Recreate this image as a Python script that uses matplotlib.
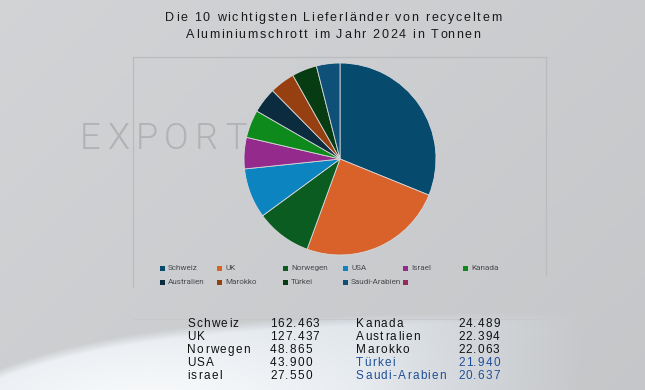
import matplotlib
matplotlib.use("Agg")
import matplotlib.pyplot as plt
import numpy as np
from matplotlib.patches import Rectangle
from matplotlib.font_manager import FontProperties

countries = ["Schweiz", "UK", "Norwegen", "USA", "Israel", "Kanada",
             "Australien", "Marokko", "Türkei", "Saudi-Arabien"]
tonnes = [162463, 127437, 48865, 43900, 27550, 24489, 22394, 22063, 21940, 20637]
table_labels = ["Schweiz", "UK", "Norwegen", "USA", "israel",
                "Kanada", "Australien", "Marokko", "Türkei", "Saudi-Arabien"]
table_values = ["162.463", "127.437", "48.865", "43.900", "27.550",
                "24.489", "22.394", "22.063", "21.940", "20.637"]
colors = ["#064a6e", "#d9612a", "#0b5c20", "#0b84bf", "#942a8c", "#0e8a1d",
          "#0b2b3f", "#963f10", "#073c12", "#0f5079"]
extra_legend_color = "#942a5e"
title_lines = ["Die 10 wichtigsten Lieferländer von recyceltem",
               "Aluminiumschrott im Jahr 2024 in Tonnen"]

W, H, DPI = 645, 390, 100
fig = plt.figure(figsize=(W / DPI, H / DPI), dpi=DPI)

# background: grey wall with a bright curved glass reflection at the bottom left
yy, xx = np.mgrid[0:H, 0:W].astype(float)
base = 210 - 8 * (xx / W) - 5 * (yy / H)
img = np.stack([base, base + 1.5, base + 4], axis=-1)
curve = 310 + 58 * np.exp(-xx / 150)
mask = np.clip((yy - curve) / 10, 0, 1) * np.clip((580 - xx) / 220, 0, 1)
glow = np.exp(-(((xx - 150) / 240) ** 2 + ((yy - 410) / 90) ** 2))
bright = np.stack([220 + 27 * glow, 226 + 23 * glow, 232 + 19 * glow], axis=-1)
img = img * (1 - mask[..., None]) + bright * mask[..., None]
bg = fig.add_axes([0, 0, 1, 1])
bg.imshow(np.clip(img, 0, 255).astype(np.uint8), extent=(0, W, H, 0), aspect="auto")
bg.set_xlim(0, W)
bg.set_ylim(H, 0)
bg.axis("off")

renderer = fig.canvas.get_renderer()


def text_width(s, fp):
    w1, _, _ = renderer.get_text_width_height_descent(s + "|", fp, ismath=False)
    w0, _, _ = renderer.get_text_width_height_descent("|", fp, ismath=False)
    return w1 - w0


def tracked(x, y, s, size, track, ha="left", family="Liberation Sans", weight="normal", **kw):
    fp = FontProperties(family=family, size=size, weight=weight)
    total = text_width(s, fp) + track * (len(s) - 1)
    x0 = x - total / 2 if ha == "center" else x
    for i, c in enumerate(s):
        if c == " ":
            continue
        off = text_width(s[:i], fp) + track * i
        bg.text(x0 + off, y, c, fontproperties=fp, va="center", ha="left", **kw)


# frame lines
frame = dict(color="#b9bbbe", lw=0.9)
bg.plot([133, 546], [57, 57], **frame)
bg.plot([133, 133], [57, 287], **frame)
bg.plot([546, 546], [57, 275], **frame)
bg.plot([133, 546], [319, 319], color="#c6c8cb", lw=0.7)

# watermark
tracked(80, 139, "EXPORT", 26, 6.5, family="Roboto", weight=300, color="#b1b2b5")

# title
tracked(333, 18, title_lines[0], 9, 1.7, ha="center", color="#1a1a1a")
tracked(333, 35, title_lines[1], 9, 1.7, ha="center", color="#1a1a1a")

# pie
cx, cy, r = 340, 159, 96
pax = fig.add_axes([(cx - r) / W, 1 - (cy + r) / H, 2 * r / W, 2 * r / H])
pax.pie(tonnes, colors=colors, startangle=90, counterclock=False,
        wedgeprops=dict(edgecolor="#d6d8da", linewidth=0.6))
pax.set_xlim(-1, 1)
pax.set_ylim(-1, 1)
pax.axis("off")

# legend
col_x = [160, 217, 283, 343, 403, 463]
row_y = [268, 282]
entries = list(zip(countries, colors)) + [("", extra_legend_color)]
for i, (name, col) in enumerate(entries):
    x = col_x[i % 6]
    y = row_y[i // 6]
    bg.add_patch(Rectangle((x, y - 2.5), 5, 5, color=col, lw=0))
    if name:
        bg.text(x + 8, y, name, fontsize=5.9, family="Roboto", color="#4a4c50",
                va="center", ha="left")

# value table
rows_y = [324, 337, 350, 363, 376]
for i in range(10):
    blue = table_labels[i] in ("Türkei", "Saudi-Arabien")
    col = "#1f4f97" if blue else "#111111"
    lx, vx = (187, 270) if i < 5 else (356, 458)
    y = rows_y[i % 5]
    tracked(lx, y, table_labels[i], 8.5, 1.3, color=col)
    tracked(vx, y, table_values[i], 8.5, 1.1, color=col)

fig.savefig("out.png", dpi=DPI)
